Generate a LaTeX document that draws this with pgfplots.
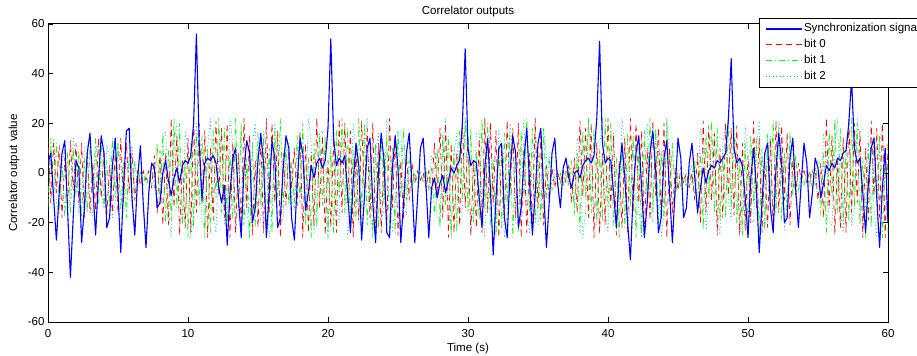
\documentclass[border=0pt]{standalone}
\usepackage{fontspec}
\setmainfont{Liberation Sans}
\usepackage{pgfplots}
\usepackage{pgfplotstable}
\pgfplotsset{compat=1.18}
\pgfplotstableread{
t s b0 b1 b2
0.0 4 14 -13 -15
0.2 8 -12 14 6
0.4 -10 12 -10 14
0.6 -27 -8 12 -12
0.8 -8 11 -15 -16
1.0 8 -18 4 4
1.2 13 6 -18 10
1.4 -15 -13 8 -15
1.6 -42 13 -16 -10
1.8 -18 -7 10 14
2.0 5 12 -9 8
2.2 2 -12 9 -16
2.4 -28 12 -18 -8
2.6 -14 -18 6 10
2.8 8 8 -16 11
3.0 16 -16 11 -10
3.2 -5 4 -8 -18
3.4 -25 -15 14 8
3.6 -3 14 -12 12
3.8 15 -10 12 -8
4.0 8 9 -14 -14
4.2 -22 -17 5 11
4.4 -18 3 -13 6
4.6 3 -16 14 -18
4.8 14 8 -10 -12
5.0 -8 -16 12 12
5.2 -32 14 -15 4
5.4 -5 -12 4 -14
5.6 17 12 -18 -15
5.8 18 -8 8 6
6.0 -10 8 -13 11
6.2 -25 -11 5 -7
6.4 -2 1 -5 -7
6.6 11 -5 1 0
6.8 -12 1 -5 0
7.0 -30 -3 0 -4
7.2 -8 1 -6 -4
7.4 4 -6 3 4
7.6 2 7 -6 4
7.8 -14 -16 12 -15
8.0 -12 9 -13 -9
8.2 0 -21 16 14
8.4 5 8 -20 17
8.6 -3 -21 9 -14
8.8 -9 22 -19 -26
9.0 -2 -14 22 12
9.2 2 15 -14 20
9.4 -4 -25 20 -12
9.6 3 5 -21 -20
9.8 5 -22 6 17
10.0 4 14 -26 10
10.2 7 -24 12 -26
10.4 20 22 -22 -16
10.6 56 -16 16 20
10.8 12 20 -13 8
11.0 -11 -12 15 -20
11.2 4 17 -26 -21
11.4 6 -26 10 10
11.6 5 10 -24 22
11.8 7 -19 17 -16
12.0 4 21 -10 -24
12.2 -6 -9 22 8
12.4 -12 18 -16 16
12.6 -5 -18 18 -21
12.8 -29 20 -20 -14
13.0 -8 -26 9 22
13.2 6 12 -19 12
13.4 10 -24 22 -24
13.6 -10 8 -14 -12
13.8 -26 -21 20 16
14.0 2 22 -21 17
14.2 13 -14 6 -14
14.4 8 15 -26 -26
14.6 -20 -25 12 12
14.8 -14 5 -22 20
15.0 5 -22 16 -12
15.2 16 14 -13 -20
15.4 4 -24 15 17
15.6 -26 22 -26 10
15.8 -8 -16 10 -26
16.0 13 20 -24 -16
16.2 6 -12 17 20
16.4 -22 17 -10 8
16.6 -18 -26 22 -20
16.8 2 8 -14 -18
17.0 15 -13 12 6
17.2 10 11 -13 12
17.4 -18 -6 4 -10
17.6 -27 10 -12 -15
17.8 -4 -13 15 5
18.0 14 17 -12 14
18.2 8 -26 20 -21
18.4 -15 12 -21 -14
18.6 -8 -24 6 22
18.8 3 8 -26 12
19.0 -2 -21 12 -24
19.2 4 22 -22 -12
19.4 6 -14 16 16
19.6 2 15 -13 17
19.8 5 -25 15 -14
20.0 18 5 -26 -26
20.2 54 -22 10 12
20.4 14 14 -24 20
20.6 3 -24 17 -12
20.8 6 22 -10 -20
21.0 4 -16 22 17
21.2 7 20 -16 10
21.4 -8 -12 18 -26
21.6 -24 17 -20 -16
21.8 -4 -26 9 20
22.0 12 10 -19 8
22.2 3 -19 22 -20
22.4 -27 21 -14 -21
22.6 -10 -9 20 10
22.8 10 18 -21 22
23.0 14 -18 6 -16
23.2 -12 20 -26 -24
23.4 -28 -26 12 8
23.6 0 12 -22 16
23.8 16 -24 16 -21
24.0 5 8 -13 -14
24.2 -24 -21 15 22
24.4 -26 22 -26 12
24.6 2 -14 10 -24
24.8 15 15 -24 -12
25.0 2 -25 17 16
25.2 -28 5 -10 17
25.4 -12 -19 18 -12
25.6 8 8 -11 -17
25.8 16 -11 6 4
26.0 -5 4 -6 3
26.2 -28 -4 0 -4
26.4 -10 1 -4 -4
26.6 10 -3 1 0
26.8 14 0 -4 0
27.0 -5 -6 2 -6
27.2 -26 1 -7 -6
27.4 -6 -9 2 7
27.6 -2 12 -17 4
27.8 -10 -8 10 -17
28.0 -4 18 -22 -21
28.2 -1 -18 16 10
28.4 -8 20 -13 22
28.6 -3 -26 15 -16
28.8 2 12 -26 -24
29.0 0 -24 10 8
29.2 3 8 -24 16
29.4 5 -21 17 -21
29.6 20 22 -10 -14
29.8 50 -14 22 22
30.0 10 15 -16 12
30.2 3 -25 18 -24
30.4 5 5 -20 -12
30.6 4 -22 9 16
30.8 -10 14 -19 17
31.0 -22 -24 22 -14
31.2 2 22 -14 -26
31.4 14 -16 20 12
31.6 -6 20 -21 20
31.8 -33 -12 6 -12
32.0 -10 17 -26 -20
32.2 10 -26 12 17
32.4 12 10 -22 10
32.6 -18 -19 16 -26
32.8 -26 21 -13 -16
33.0 0 -9 15 20
33.2 15 18 -26 8
33.4 8 -18 10 -20
33.6 -22 20 -24 -21
33.8 -14 -26 17 10
34.0 6 12 -10 22
34.2 18 -24 22 -16
34.4 -4 8 -16 -24
34.6 -25 -21 18 8
34.8 -8 22 -20 16
35.0 12 -14 9 -21
35.2 18 15 -19 -14
35.4 -6 -21 18 18
35.6 -30 3 -10 7
35.8 -12 -11 7 -11
36.0 8 2 -7 -4
36.2 14 -6 -1 1
36.4 -4 1 -5 0
36.6 -14 -4 0 -4
36.8 2 1 -5 -5
37.0 6 -4 1 0
37.2 -2 3 -5 3
37.4 -6 -12 5 -6
37.6 0 6 -17 -13
37.8 1 -16 8 14
38.0 -2 21 -24 10
38.2 3 -9 17 -26
38.4 5 18 -10 -16
38.6 6 -18 22 20
38.8 4 20 -16 8
39.0 7 -26 18 -20
39.2 22 12 -20 -21
39.4 53 -24 9 10
39.6 12 8 -19 22
39.8 4 -21 22 -16
40.0 6 22 -14 -24
40.2 5 -14 20 8
40.4 -8 15 -21 16
40.6 -22 -25 6 -21
40.8 0 5 -26 -14
41.0 12 -22 12 22
41.2 -2 14 -22 12
41.4 -20 -24 16 -24
41.6 -35 22 -13 -12
41.8 -8 -16 15 16
42.0 8 20 -26 17
42.2 15 -12 10 -14
42.4 -6 17 -24 -26
42.6 -26 -26 17 12
42.8 -12 10 -10 20
43.0 8 -19 22 -12
43.2 17 21 -16 -20
43.4 2 -9 18 17
43.6 -24 18 -20 10
43.8 -18 -18 9 -26
44.0 6 20 -19 -16
44.2 13 -26 22 20
44.4 -8 10 -12 6
44.6 -28 -16 12 -13
44.8 -6 2 -10 -10
45.0 14 -7 0 1
45.2 6 2 -6 2
45.4 -18 -4 0 -4
45.6 -14 0 -5 -5
45.8 4 -6 1 0
46.0 12 0 -5 3
46.2 -2 -11 5 -10
46.4 -16 8 -17 -10
46.6 -6 -20 8 18
46.8 2 21 -23 12
47.0 -4 -16 16 -23
47.2 1 19 -10 -11
47.4 3 -11 21 15
47.6 2 16 -16 16
47.8 5 -25 18 -14
48.0 4 10 -19 -25
48.2 6 -18 8 12
48.4 8 20 -18 19
48.6 22 -9 21 -11
48.8 46 18 -14 -19
49.0 10 -17 19 16
49.2 4 19 -20 10
49.4 6 -25 6 -25
49.6 3 12 -25 -16
49.8 -10 -23 12 19
50.0 -26 7 -22 7
50.2 -2 -20 15 -19
50.4 10 21 -12 -20
50.6 -6 -14 14 10
50.8 -32 14 -25 21
51.0 -12 -24 10 -16
51.2 8 5 -23 -23
51.4 12 -22 16 7
51.6 -14 13 -10 15
51.8 -24 -23 21 -20
52.0 2 21 -16 -14
52.2 16 -16 18 21
52.4 4 19 -19 12
52.6 -20 -11 8 -23
52.8 -18 16 -18 -11
53.0 6 -21 17 12
53.2 14 5 -9 9
53.4 -6 -9 7 -7
53.6 -22 4 -7 -8
53.8 -4 -3 -1 0
54.0 12 1 -5 1
54.2 4 -4 0 -3
54.4 -18 1 -5 -4
54.6 -8 -6 1 1
54.8 6 2 -5 1
55.0 2 -11 5 -12
55.2 -10 4 -17 -11
55.4 -4 -18 8 16
55.6 3 22 -24 8
55.8 1 -14 17 -20
56.0 4 15 -10 -21
56.2 2 -25 22 10
56.4 6 5 -16 22
56.6 5 -22 18 -16
56.8 8 14 -20 -24
57.0 9 -24 9 8
57.2 20 22 -19 16
57.4 38 -16 22 -21
57.6 10 20 -14 -14
57.8 4 -12 20 22
58.0 6 17 -21 12
58.2 -8 -26 6 -24
58.4 -24 10 -26 -12
58.6 -4 -19 12 16
58.8 10 21 -22 17
59.0 14 -9 16 -14
59.2 -10 18 -13 -26
59.4 -30 -18 15 12
59.6 -6 20 -26 20
59.8 10 -26 10 -12
60.0 -20 12 -24 -20
}\datatable
\begin{document}
\begin{tikzpicture}
\begin{axis}[
  at={(0,0)}, anchor=south west,
  scale only axis, width=840bp, height=298bp,
  xmin=0, xmax=60, ymin=-60, ymax=60,
  xtick={0,10,...,60}, ytick={-60,-40,...,60},
  /pgf/number format/assume math mode=true,
  font=\fontsize{11.6}{13.5}\selectfont,
  tick label style={font=\fontsize{11.6}{13.5}\selectfont},
  axis line style={line width=1bp},
  every tick/.style={black, line width=0.7bp},
  major tick length=5bp,
  tick align=inside,
  xticklabel style={anchor=base, yshift=-15bp},
  title={Correlator outputs},
  title style={at={(axis description cs:0.5,1)}, anchor=base, yshift=4bp, font=\fontsize{11.6}{13.5}\selectfont},
  xlabel={Time (s)},
  xlabel style={at={(axis description cs:0.5,0)}, anchor=base, yshift=-29bp},
  ylabel={Correlator output value},
  ylabel style={at={(axis description cs:-0.0369,0.5)}, anchor=base},
  legend style={at={(0.8464,1.020)}, anchor=north west, draw=black, line width=0.9bp,
    fill=white, font=\fontsize{11.6}{13.5}\selectfont, inner xsep=6bp, inner ysep=3.5bp,
    row sep=2bp,
    nodes={inner sep=1.5bp, text height=8.5bp, text depth=2.5bp}},
  legend cell align=left,
  every axis plot/.append style={line join=round},
]
\addlegendimage{legend image code/.code={\draw[draw=blue, line width=1.1bp] (0bp,0bp) -- (36bp,0bp);}}
\addlegendentry{Synchronization signal}
\addlegendimage{legend image code/.code={\draw[draw=red, line width=1bp, dash pattern=on 6bp off 4bp] (0bp,0bp) -- (36bp,0bp);}}
\addlegendentry{bit 0}
\addlegendimage{legend image code/.code={\draw[draw=green, line width=1bp, dash pattern=on 6bp off 3bp on 1.2bp off 3bp] (0bp,0bp) -- (36bp,0bp);}}
\addlegendentry{bit 1}
\addlegendimage{legend image code/.code={\draw[draw=cyan, line width=1bp, dash pattern=on 1bp off 2.5bp] (0bp,0bp) -- (36bp,0bp);}}
\addlegendentry{bit 2}
\addplot[forget plot, color=cyan, line width=0.6bp, dash pattern=on 1bp off 2.5bp] table[x=t, y=b2] {\datatable};
\addplot[forget plot, color=green, line width=0.65bp, dash pattern=on 6bp off 3bp on 1.2bp off 3bp] table[x=t, y=b1] {\datatable};
\addplot[forget plot, color=red, line width=0.65bp, dash pattern=on 6bp off 4bp] table[x=t, y=b0] {\datatable};
\addplot[forget plot, color=blue, line width=1.1bp] table[x=t, y=s] {\datatable};
\end{axis}
\pgfresetboundingbox
\path[use as bounding box] (-48bp,-34bp) rectangle (869bp,322bp);
\end{tikzpicture}
\end{document}
